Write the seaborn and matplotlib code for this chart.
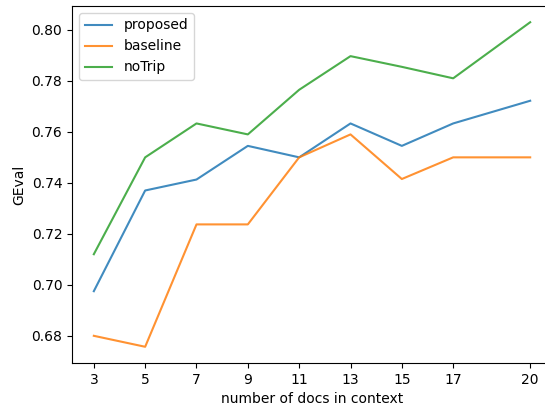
import pandas as pd
import seaborn as sns
import matplotlib.pyplot as plt

NUM_DOCS = [3, 5, 7, 9, 11, 13, 15, 17, 20]
PROPOSED = [0.6975, 0.7370, 0.7413, 0.7545, 0.7500, 0.7633, 0.7545, 0.7633, 0.7722]
BASELINE = [0.6800, 0.6757, 0.7237, 0.7237, 0.7500, 0.7590, 0.7415, 0.7500, 0.7500]
NOTRIP = [0.7120, 0.7500, 0.7633, 0.7590, 0.7765, 0.7897, 0.7855, 0.7810, 0.8030]
SERIES = ["proposed", "baseline", "noTrip"]


def main():
    rows = []
    for name, vals in zip(SERIES, [PROPOSED, BASELINE, NOTRIP]):
        for n, v in zip(NUM_DOCS, vals):
            rows.append({"docs": n, "GEval": v, "method": name})
    df = pd.DataFrame(rows)

    fig = plt.figure(figsize=(5.45, 4.05), dpi=100)
    # original screenshot is cropped on the right, so the axes run past the edge
    ax = fig.add_axes([72 / 545, 42 / 405, 480 / 545, 357 / 405])
    sns.lineplot(data=df, x="docs", y="GEval", hue="method",
                 palette=["tab:blue", "tab:orange", "tab:green"],
                 alpha=0.85, linewidth=1.5, ax=ax)
    ax.spines["right"].set_visible(False)
    ax.set_xticks(NUM_DOCS)
    ax.set_xlabel("number of docs in context")
    ax.set_ylabel("GEval")
    ax.legend(loc="upper left")
    fig.savefig("out.png", dpi=100)


if __name__ == "__main__":
    main()
